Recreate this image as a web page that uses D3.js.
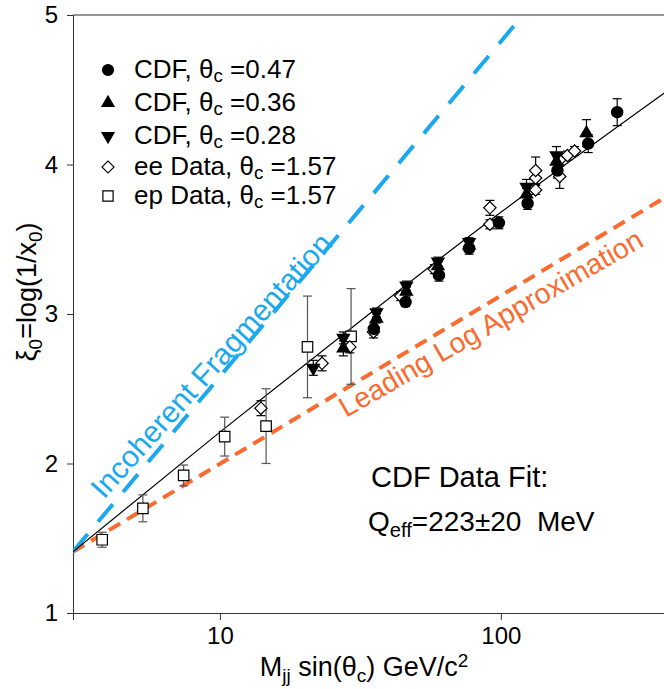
<!DOCTYPE html>
<html><head><meta charset="utf-8">
<script src="https://cdn.jsdelivr.net/npm/d3@7"></script>
<style>
body{margin:0;background:#fff}
svg{display:block;font-family:"Liberation Sans",Arial,Helvetica,sans-serif}
</style>
</head><body>
<svg id="chart" width="664" height="689"></svg>
<script>
// ---- data: [x, y, error] ----
const cdf047 = [[35.3,2.90,0.04],[45.8,3.08,0.03],[60.2,3.26,0.04],[77.1,3.44,0.04],[98.4,3.61,0.04],[124.5,3.74,0.04],[159,3.96,0.05],[204.6,4.14,0.06],[259.5,4.35,0.09]];
const cdf036 = [[27.5,2.77,0.05],[36.1,2.97,0.03],[46.1,3.15,0.03],[59.7,3.32,0.03],[77.1,3.46,0.03],[123.4,3.80,0.04],[157.7,4.02,0.05],[201.7,4.21,0.09]];
const cdf028 = [[21.5,2.64,0.05],[27.5,2.84,0.04],[36.1,3.01,0.03],[46.1,3.19,0.03],[59.7,3.35,0.03],[77.1,3.48,0.03],[123.4,3.85,0.05],[157.7,4.06,0.06]];
const eeData = [[14.0,2.37,0.05],[23.1,2.67,0.05],[29.0,2.78,0.04],[35.2,2.88,0.04],[44.0,3.12,0.03],[58.0,3.30,0.03],[91.4,3.60,0.03],[91.4,3.71,0.05],[133,3.83,0.03],[133,3.91,0.04],[133,3.96,0.09],[162,3.92,0.08],[162,4.03,0.04],[172.6,4.06,0.03],[183,4.09,0.03]];
const epData = [[3.81,1.49,0.05],[5.32,1.70,0.09],[7.43,1.92,0.07],[10.4,2.18,0.13],[14.6,2.25,0.25],[20.5,2.78,0.34],[29.3,2.85,0.32]];

const fitX = [3,10,30,73.5,100,400];
const fitY = [1.41,2.21,2.92,3.49,3.68,4.505];
const incohX = [3,120];
const incohY = [1.41,5.0];
const llaX = [3,400];
const llaY = [1.41,3.80];

const xMajor = [10,100];
const xMajorLabels = ["10","100"];
const xMinor = [3,4,5,6,7,8,9,20,30,40,50,60,70,80,90,200,300,400];
const yMajor = [1,2,3,4,5];
const yMajorLabels = ["1","2","3","4","5"];

const legendLabels = ["CDF, θ|c| =0.47","CDF, θ|c| =0.36","CDF, θ|c| =0.28","ee Data, θ|c| =1.57","ep Data, θ|c| =1.57"];
const fitLabel1 = "CDF Data Fit:";
const fitLabel2 = "Q|eff|=223±20  MeV";
const incohLabel = "Incoherent Fragmentation";
const llaLabel = "Leading Log Approximation";

// ---- layout ----
const svg = d3.select("#chart");
const L = 73, R = 670, T = 15, B = 613;
const x = d3.scaleLog().domain([3,400]).range([L,R]);
const y = d3.scaleLinear().domain([1,5]).range([B,T]);
const BLUE = "#1ba8ee", ORANGE = "#fb6a2f";

svg.append("defs").append("clipPath").attr("id","clip")
  .append("rect").attr("x",L).attr("y",T).attr("width",R-L).attr("height",B-T);

// axes
const gx = svg.append("g").attr("transform",`translate(0,${B})`);
gx.call(d3.axisBottom(x).tickValues(xMinor).tickSize(4).tickFormat(""));
gx.call(d3.axisBottom(x).tickValues(xMajor).tickSize(7).tickPadding(7).tickFormat((d,i)=>xMajorLabels[i]));
const gy = svg.append("g").attr("transform",`translate(${L},0)`);
gy.call(d3.axisLeft(y).tickValues(d3.range(10,51).map(v=>v/10)).tickSize(4).tickFormat(""));
gy.call(d3.axisLeft(y).tickValues(yMajor).tickSize(6).tickPadding(9).tickFormat((d,i)=>yMajorLabels[i]));
svg.selectAll(".domain").attr("stroke","#333");
svg.selectAll(".tick line").attr("stroke","#333");
svg.selectAll(".tick text").attr("font-size",24).attr("fill","#000").attr("font-family","Liberation Sans, Arial, sans-serif");
// top frame
svg.append("line").attr("x1",L).attr("x2",R).attr("y1",T).attr("y2",T).attr("stroke","#333");

const plot = svg.append("g").attr("clip-path","url(#clip)");
const line = d3.line().x(d=>x(d[0])).y(d=>y(d[1]));

plot.append("path").datum(d3.zip(llaX,llaY)).attr("d",line)
  .attr("fill","none").attr("stroke",ORANGE).attr("stroke-width",4).attr("stroke-dasharray","13,8");
plot.append("path").datum(d3.zip(incohX,incohY)).attr("d",line)
  .attr("fill","none").attr("stroke",BLUE).attr("stroke-width",4).attr("stroke-dasharray","23,16");
plot.append("path").datum(d3.zip(fitX,fitY)).attr("d",line.curve(d3.curveMonotoneX))
  .attr("fill","none").attr("stroke","#000").attr("stroke-width",1.2);

// error bars + markers
const series = [
  {data:epData, sym:d3.symbolSquare, size:110, rot:0, fill:"#fff", ebc:"#555"},
  {data:eeData, sym:d3.symbolSquare, size:76, rot:45, fill:"#fff", ebc:"#000"},
  {data:cdf047, sym:d3.symbolCircle, size:100, rot:0, fill:"#000", ebc:"#000"},
  {data:cdf036, sym:d3.symbolTriangle, size:66, rot:0, fill:"#000", ebc:"#000"},
  {data:cdf028, sym:d3.symbolTriangle, size:66, rot:180, fill:"#000", ebc:"#000"}
];
const cap = 4.5;
series.forEach(s=>{
  const g = plot.append("g");
  s.data.forEach(d=>{
    const px = x(d[0]), y1 = y(d[1]+d[2]), y2 = y(d[1]-d[2]);
    g.append("line").attr("x1",px).attr("x2",px).attr("y1",y1).attr("y2",y2).attr("stroke",s.ebc).attr("stroke-width",1.2);
    g.append("line").attr("x1",px-cap).attr("x2",px+cap).attr("y1",y1).attr("y2",y1).attr("stroke",s.ebc).attr("stroke-width",1.2);
    g.append("line").attr("x1",px-cap).attr("x2",px+cap).attr("y1",y2).attr("y2",y2).attr("stroke",s.ebc).attr("stroke-width",1.2);
  });
});
series.forEach(s=>{
  plot.append("g").selectAll("path").data(s.data).join("path")
    .attr("d",d3.symbol(s.sym,s.size))
    .attr("transform",d=>`translate(${x(d[0])},${y(d[1])}) rotate(${s.rot})`)
    .attr("fill",s.fill).attr("stroke","#000").attr("stroke-width",1.2);
});

// helper for text with subscript parts "a|sub|b"
function richText(sel, str, fs, shift){
  const parts = str.split("|");
  parts.forEach((p,i)=>{
    if(i%2===1){
      sel.append("tspan").attr("font-size",fs*0.72).attr("dy",fs*shift).text(p);
    } else {
      sel.append("tspan").attr("dy", i>0 ? -fs*shift : 0).text(p);
    }
  });
}

// legend
const legY = [70,103,136,167,196];
const legFs = 26;
const legOrder = [2,3,4,1,0];
legOrder.forEach((si,i)=>{
  const s = series[si];
  svg.append("path").attr("d",d3.symbol(s.sym,s.size*0.95))
    .attr("transform",`translate(108,${legY[i]}) rotate(${s.rot})`)
    .attr("fill",s.fill).attr("stroke","#000").attr("stroke-width",1.2);
  const t = svg.append("text").attr("x",134).attr("y",legY[i]+8).attr("font-size",legFs).attr("fill","#000");
  richText(t, legendLabels[i], legFs, 0.15);
});

// fit annotation
svg.append("text").attr("x",371).attr("y",487).attr("font-size",29).text(fitLabel1);
const ft = svg.append("text").attr("x",368).attr("y",531).attr("font-size",28).style("white-space","pre");
richText(ft, fitLabel2, 28, 0.22);

// line labels
svg.append("text").attr("transform","translate(104,500) rotate(-48)")
  .attr("font-size",30).attr("fill",BLUE).text(incohLabel);
svg.append("text").attr("transform","translate(346,418) rotate(-30)")
  .attr("font-size",28.5).attr("fill",ORANGE).text(llaLabel);

// axis titles
const xt = svg.append("text").attr("x",364).attr("y",676).attr("text-anchor","middle").attr("font-size",27);
xt.append("tspan").text("M");
xt.append("tspan").attr("font-size",19).attr("dy",6).text("jj");
xt.append("tspan").attr("dy",-6).text(" sin(θ");
xt.append("tspan").attr("font-size",19).attr("dy",6).text("c");
xt.append("tspan").attr("dy",-6).text(") GeV/c");
xt.append("tspan").attr("font-size",19).attr("dy",-9).text("2");

const yt = svg.append("text").attr("transform","translate(36,292) rotate(-90)").attr("text-anchor","middle").attr("font-size",27);
yt.append("tspan").text("ξ");
yt.append("tspan").attr("font-size",19).attr("dy",6).text("0");
yt.append("tspan").attr("dy",-6).text("=log(1/x");
yt.append("tspan").attr("font-size",19).attr("dy",6).text("0");
yt.append("tspan").attr("dy",-6).text(")");
</script>
</body></html>
